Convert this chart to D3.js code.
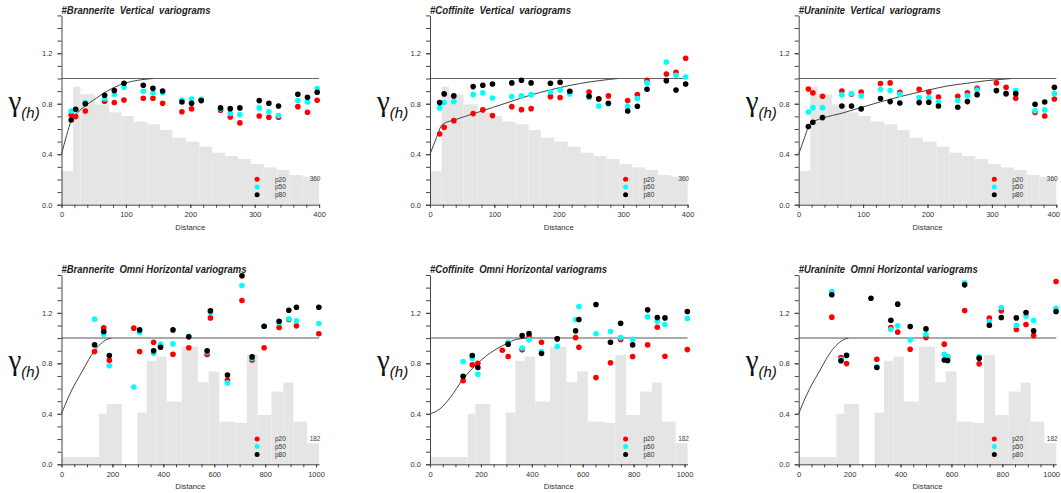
<!DOCTYPE html>
<html>
<head>
<meta charset="utf-8">
<script src="https://cdn.jsdelivr.net/npm/d3@7"></script>
<style>
  body { margin: 0; background: #fff; }
  svg { display: block; font-family: "Liberation Sans", Arial, sans-serif; }
</style>
</head>
<body>
<div id="chart"></div>
<script>
// Lag distances (x positions of the experimental points)
var vertLags = [15, 22, 37, 67, 82, 97, 127, 142, 157, 187, 202, 217, 247, 262, 277, 307, 322, 337, 367, 382, 397];
var horzLags = [130, 166, 188, 284, 307, 362, 389, 438, 500, 572, 585, 652, 709, 749, 796, 855, 893, 923, 1011];

// Pair-count histograms (scaled into gamma units)
var vertBinEdges = [0, 18, 29.5, 52, 74, 93, 112, 133, 153, 172, 193, 214, 234, 254, 274, 294, 314, 334, 354, 374, 400];
var vertBinHeights = [0.267, 0.935, 0.875, 0.795, 0.732, 0.703, 0.658, 0.637, 0.592, 0.531, 0.5, 0.46, 0.412, 0.386, 0.362, 0.322, 0.296, 0.275, 0.235, 0.222];
var horzBinEdges = [0, 148, 178, 237, 298, 335, 373, 413, 472, 536, 578, 620, 683, 728, 771, 825, 872, 911, 965, 1012];
var horzBinHeights = [0.058, 0.40, 0.478, 0, 0.41, 0.82, 0.854, 0.497, 0.933, 0.65, 0.735, 0.338, 0.328, 0.867, 0.391, 0.576, 0.648, 0.338, 0.167];

// Brannerite vertical
var brannV20 = [0.711, 0.698, 0.743, 0.82, 0.81, 0.83, 0.843, 0.843, 0.804, 0.737, 0.759, 0.83, 0.748, 0.695, 0.648, 0.703, 0.693, 0.693, 0.777, 0.732, 0.827];
var brannV50 = [0.743, 0.75, 0.81, 0.84, 0.875, 0.93, 0.899, 0.888, 0.888, 0.83, 0.838, 0.838, 0.76, 0.724, 0.714, 0.767, 0.737, 0.706, 0.825, 0.814, 0.92];
var brannV80 = [0.671, 0.756, 0.80, 0.867, 0.904, 0.962, 0.946, 0.922, 0.901, 0.814, 0.804, 0.825, 0.767, 0.761, 0.767, 0.825, 0.804, 0.782, 0.875, 0.851, 0.891];
var brannVModel = [[0, 0.40], [8, 0.55], [15, 0.665], [25, 0.73], [36, 0.78], [50, 0.83], [60, 0.865], [80, 0.925], [100, 0.965], [124, 0.99], [142, 1.0]];

// Coffinite vertical
var coffV20 = [0.560, 0.613, 0.666, 0.722, 0.751, 0.706, 0.777, 0.753, 0.761, 0.856, 0.849, 0.89, 0.893, 0.84, 0.862, 0.825, 0.872, 0.986, 1.036, 1.049, 1.160];
var coffV50 = [0.767, 0.809, 0.817, 0.872, 0.886, 0.846, 0.856, 0.862, 0.872, 0.893, 0.909, 0.878, 0.849, 0.782, 0.80, 0.777, 0.841, 0.965, 1.131, 1.026, 1.012];
var coffV80 = [0.809, 0.878, 0.862, 0.936, 0.946, 0.957, 0.965, 0.986, 0.965, 0.962, 0.970, 0.899, 0.859, 0.838, 0.804, 0.743, 0.780, 0.915, 0.983, 0.909, 0.957];
var coffVModel = [[0, 0.40], [10, 0.53], [19, 0.635], [40, 0.675], [67, 0.72], [97, 0.77], [127, 0.82], [157, 0.87], [187, 0.91], [217, 0.945], [247, 0.972], [277, 0.992], [292, 1.0]];

// Uraninite vertical
var uranV20 = [0.917, 0.886, 0.859, 0.901, 0.875, 0.893, 0.960, 0.965, 0.891, 0.915, 0.893, 0.854, 0.859, 0.886, 0.923, 0.965, 0.930, 0.843, 0.730, 0.703, 0.838];
var uranV50 = [0.735, 0.769, 0.769, 0.870, 0.880, 0.862, 0.912, 0.904, 0.875, 0.849, 0.849, 0.817, 0.825, 0.864, 0.909, 0.905, 0.88, 0.904, 0.745, 0.751, 0.880];
var uranV80 = [0.619, 0.653, 0.690, 0.782, 0.782, 0.759, 0.841, 0.817, 0.806, 0.809, 0.812, 0.782, 0.772, 0.817, 0.872, 0.904, 0.880, 0.880, 0.796, 0.814, 0.930];
var uranVModel = [[0, 0.40], [9, 0.53], [17.6, 0.64], [37, 0.685], [67, 0.725], [97, 0.77], [127, 0.815], [157, 0.856], [202, 0.909], [230, 0.94], [261, 0.962], [290, 0.982], [307, 0.99], [331, 1.0]];

// Brannerite omni horizontal
var brannH20 = [0.893, 1.081, 0.825, 1.079, 0.893, 0.967, 0.94, 0.872, 0.923, 0.870, 1.160, 0.666, 1.298, 0.827, 0.923, 1.084, 1.147, 1.097, 1.034];
var brannH50 = [1.150, 1.031, 0.780, 0.613, 1.044, 0.878, 0.952, 0.954, 1.015, 0.89, 1.203, 0.645, 1.417, 0.841, 1.094, 1.123, 1.153, 1.137, 1.116];
var brannH80 = [0.946, 1.052, 0.862, null, 1.065, 0.899, 0.928, 1.065, 1.010, 0.899, 1.216, 0.708, 1.494, 0.851, 1.094, 1.134, 1.221, 1.245, 1.245];
var brannHModel = [[0, 0.40], [29, 0.54], [55, 0.645], [81, 0.735], [107, 0.83], [133, 0.91], [160, 0.965], [185, 0.995], [195, 1.0]];

// Coffinite omni horizontal
var coffH20 = [0.663, 0.788, 0.801, 0.904, 0.854, 0.907, 1.015, 0.967, 0.994, 1.004, 0.928, 0.687, 0.804, 0.989, 0.854, 0.946, 1.086, 0.856, 0.909];
var coffH50 = [0.814, 0.841, 0.714, null, 0.967, 0.922, 0.986, 0.893, 0.933, 1.145, 1.250, 1.034, 1.052, 1.004, 0.991, 1.168, 1.134, 1.108, 1.155];
var coffH80 = [0.698, 0.862, 0.767, null, 0.952, 1.020, 1.036, 0.878, 0.994, 1.057, 1.147, 1.266, 0.967, 1.118, 0.946, 1.224, 1.163, 1.160, 1.211];
var coffHModel = [[0, 0.40], [40, 0.44], [80, 0.53], [128, 0.67], [187, 0.80], [250, 0.90], [300, 0.955], [340, 0.99], [385, 1.0]];

// Uraninite omni horizontal
var uranH20 = [1.166, 0.846, 0.798, null, 0.833, 1.084, 1.047, 0.912, 1.004, 0.952, 0.851, 1.219, 0.796, 1.158, 1.216, 1.068, 1.108, 1.020, 1.449];
var uranH50 = [1.369, 0.83, 0.86, null, 0.772, 1.068, 1.097, 0.986, 1.031, 0.872, 0.851, 1.438, 0.854, 1.131, 1.242, 1.102, 1.174, 1.139, 1.237];
var uranH80 = [1.343, 0.820, 0.864, 1.316, 0.767, 1.142, 1.269, 1.092, 1.073, 0.827, 0.822, 1.422, 0.841, 1.102, 1.163, 1.160, 1.203, 1.057, 1.211];
var uranHModel = [[0, 0.40], [29, 0.54], [55, 0.645], [81, 0.735], [107, 0.83], [133, 0.91], [160, 0.965], [185, 0.995], [195, 1.0]];

var seriesNames = ["p20", "p50", "p80"];
var seriesColors = ["#ff0000", "#00ffff", "#000000"];

// Layout
var colLeft = [61.5, 430, 798.7];
var rowBase = [204.7, 464.3];
var plotW = 257.6;
var plotH = 189.3;

var svg = d3.select("#chart")
    .append("svg")
    .attr("width", 1061)
    .attr("height", 493);

var panels = [
    { title: "#Brannerite  Vertical  variograms", titleW: 149, col: 0, row: 0, lags: vertLags, s: [brannV20, brannV50, brannV80], model: brannVModel, edges: vertBinEdges, bins: vertBinHeights, xMax: 400, xMajor: 100, xMinor: 20, count: "360" },
    { title: "#Coffinite  Vertical  variograms", titleW: 141, col: 1, row: 0, lags: vertLags, s: [coffV20, coffV50, coffV80], model: coffVModel, edges: vertBinEdges, bins: vertBinHeights, xMax: 400, xMajor: 100, xMinor: 20, count: "360" },
    { title: "#Uraninite  Vertical  variograms", titleW: 142, col: 2, row: 0, lags: vertLags, s: [uranV20, uranV50, uranV80], model: uranVModel, edges: vertBinEdges, bins: vertBinHeights, xMax: 400, xMajor: 100, xMinor: 20, count: "360" },
    { title: "#Brannerite  Omni Horizontal variograms", titleW: 185, col: 0, row: 1, lags: horzLags, s: [brannH20, brannH50, brannH80], model: brannHModel, edges: horzBinEdges, bins: horzBinHeights, xMax: 1012, xMajor: 200, xMinor: 50, count: "182" },
    { title: "#Coffinite  Omni Horizontal variograms", titleW: 177, col: 1, row: 1, lags: horzLags, s: [coffH20, coffH50, coffH80], model: coffHModel, edges: horzBinEdges, bins: horzBinHeights, xMax: 1012, xMajor: 200, xMinor: 50, count: "182" },
    { title: "#Uraninite  Omni Horizontal variograms", titleW: 179, col: 2, row: 1, lags: horzLags, s: [uranH20, uranH50, uranH80], model: uranHModel, edges: horzBinEdges, bins: horzBinHeights, xMax: 1012, xMajor: 200, xMinor: 50, count: "182" }
];

function drawPanel(p) {
    var x0 = colLeft[p.col];
    var y0 = rowBase[p.row];

    var x = d3.scaleLinear().domain([0, p.xMax]).range([x0, x0 + plotW]);
    var y = d3.scaleLinear().domain([0, 1.5]).range([y0, y0 - plotH]);

    var g = svg.append("g");

    // Histogram of pairs
    g.selectAll("rect.bar")
        .data(p.bins)
        .enter()
        .append("rect")
        .attr("class", "bar")
        .attr("x", (d, i) => x(p.edges[i]))
        .attr("width", (d, i) => x(p.edges[i + 1]) - x(p.edges[i]))
        .attr("y", d => y(d))
        .attr("height", d => y(0) - y(d))
        .attr("fill", "#e5e5e5");

    g.append("text")
        .attr("x", x0 + 259)
        .attr("y", y0 - 23.5)
        .attr("text-anchor", "end")
        .attr("font-size", "6.5px")
        .attr("fill", "#444")
        .text(p.count);

    // Sill
    g.append("line")
        .attr("x1", x(0)).attr("x2", x(p.xMax))
        .attr("y1", y(1)).attr("y2", y(1))
        .attr("stroke", p.row === 0 ? "#666" : "#aaa")
        .attr("stroke-width", p.row === 0 ? 1.2 : 2);

    // Model curve
    var line = d3.line()
        .x(d => x(d[0]))
        .y(d => y(d[1]))
        .curve(d3.curveMonotoneX);

    g.append("path")
        .datum(p.model)
        .attr("d", line)
        .attr("fill", "none")
        .attr("stroke", "#444")
        .attr("stroke-width", 1);

    // Experimental points
    p.s.forEach((vals, k) => {
        var pts = p.lags.map((lag, i) => [lag, vals[i]]).filter(d => d[1] != null);
        g.selectAll("circle.s" + k)
            .data(pts)
            .enter()
            .append("circle")
            .attr("class", "s" + k)
            .attr("cx", d => x(d[0]))
            .attr("cy", d => y(d[1]))
            .attr("r", 2.8)
            .attr("fill", seriesColors[k]);
    });

    // Legend
    var legendY = [-25.4, -17.7, -9.9];
    seriesNames.forEach((name, k) => {
        g.append("circle")
            .attr("cx", x0 + 195.6)
            .attr("cy", y0 + legendY[k])
            .attr("r", 2.5)
            .attr("fill", seriesColors[k]);
        g.append("text")
            .attr("x", x0 + 213.5)
            .attr("y", y0 + legendY[k] + 2.3)
            .attr("font-size", "6.5px")
            .attr("fill", "#333")
            .text(name);
    });

    // Y axis (minor + labelled major)
    var yMinor = g.append("g")
        .attr("transform", `translate(${x0}, 0)`)
        .call(d3.axisLeft(y).tickValues(d3.range(0, 1.51, 0.1)).tickSize(4).tickSizeOuter(0).tickFormat(""));
    var yMajor = g.append("g")
        .attr("transform", `translate(${x0}, 0)`)
        .call(d3.axisLeft(y).tickValues([0, 0.4, 0.8, 1.2]).tickSize(4).tickSizeOuter(0).tickPadding(5).tickFormat(d3.format(".1f")));
    yMajor.select(".domain").remove();

    // X axis
    var xMinor = g.append("g")
        .attr("transform", `translate(0, ${y0})`)
        .call(d3.axisBottom(x).tickValues(d3.range(0, p.xMax + 0.1, p.xMinor)).tickSize(3).tickSizeOuter(0).tickFormat(""));
    var xMajor = g.append("g")
        .attr("transform", `translate(0, ${y0})`)
        .call(d3.axisBottom(x).tickValues(d3.range(0, p.xMax + 0.1, p.xMajor)).tickSize(3).tickSizeOuter(0).tickPadding(4).tickFormat(d3.format("d")));
    xMajor.select(".domain").remove();

    [yMinor, yMajor, xMinor, xMajor].forEach(a => {
        a.selectAll("path, line").attr("stroke", "#444");
        a.selectAll("text").attr("fill", "#333").attr("font-size", "7.5px").attr("font-family", "Liberation Sans, Arial, sans-serif");
    });

    // Keep the last tick label of the right-hand column inside the page
    xMajor.selectAll("text").each(function() {
        var box = this.getBBox();
        var tx = +d3.select(this.parentNode).attr("transform").match(/translate\(([-\d.]+)/)[1];
        var right = tx + box.x + box.width;
        if (right > 1060) d3.select(this).attr("dx", (1060 - right) + "px");
    });

    // Axis titles
    g.append("text")
        .attr("x", x0 + plotW / 2)
        .attr("y", y0 + 25)
        .attr("text-anchor", "middle")
        .attr("font-size", "7.7px")
        .attr("fill", "#333")
        .text("Distance");

    var gam = g.append("text")
        .attr("x", x0 - 53)
        .attr("y", y0 - 94)
        .attr("fill", "#111");
    gam.append("tspan")
        .attr("font-size", "29px")
        .attr("font-family", "Liberation Serif, serif")
        .text("γ");
    gam.append("tspan")
        .attr("font-size", "15px")
        .attr("font-style", "italic")
        .attr("dy", 7)
        .text("(h)");

    // Panel title
    g.append("text")
        .attr("x", x0)
        .attr("y", y0 - 191)
        .attr("font-size", "10px")
        .attr("font-weight", "bold")
        .attr("font-style", "italic")
        .attr("fill", "#222")
        .attr("textLength", p.titleW)
        .attr("lengthAdjust", "spacingAndGlyphs")
        .style("white-space", "pre")
        .text(p.title);
}

panels.forEach(drawPanel);
</script>
</body>
</html>
